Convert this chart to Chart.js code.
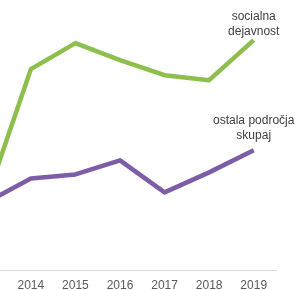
<!DOCTYPE html>
<html>
<head>
<meta charset="utf-8">
<script src="https://cdn.jsdelivr.net/npm/chart.js@4/dist/chart.umd.min.js"></script>
<style>
  html, body { margin: 0; padding: 0; background: #fff; overflow: hidden; width: 299px; height: 290px; }
  #myChart { position: absolute; left: -36px; top: 0; }
</style>
</head>
<body>
<canvas id="myChart" width="335" height="301"></canvas>
<script>
const years = ['2013', '2014', '2015', '2016', '2017', '2018', '2019'];
const socialna = [7.1, 20.1, 22.7, 21.0, 19.5, 19.0, 23.0];
const ostala = [6.8, 9.2, 9.6, 11.0, 7.8, 9.8, 12.0];
const seriesNames = [['socialna', 'dejavnost'], ['ostala področja', 'skupaj']];

// end-of-line labels, drawn above the last point of each line
const endLabels = {
  id: 'endLabels',
  afterDatasetsDraw(chart) {
    const ctx = chart.ctx;
    const lifts = [23, 30];
    ctx.save();
    ctx.font = '12px "Liberation Sans", Arial, sans-serif';
    ctx.fillStyle = '#404040';
    ctx.textAlign = 'center';
    ctx.textBaseline = 'middle';
    chart.data.datasets.forEach((ds, i) => {
      const pts = chart.getDatasetMeta(i).data;
      const last = pts[pts.length - 1];
      seriesNames[i].forEach((line, j) => {
        ctx.fillText(line, last.x, last.y - lifts[i] + j * 15);
      });
    });
    ctx.restore();
  }
};

const config = {
  type: 'line',
  data: {
    labels: years,
    datasets: [{
      label: 'socialna dejavnost',
      data: socialna,
      borderColor: '#8DBE4E',
      borderWidth: 4.5,
      pointRadius: 0,
      tension: 0,
      borderJoinStyle: 'round'
    }, {
      label: 'ostala področja skupaj',
      data: ostala,
      borderColor: '#7D5DA6',
      borderWidth: 4.5,
      pointRadius: 0,
      tension: 0,
      borderJoinStyle: 'round'
    }]
  },
  options: {
    responsive: false,
    animation: false,
    layout: { padding: { left: 0, right: 23, top: 0, bottom: 0 } },
    plugins: {
      legend: { display: false },
      tooltip: { enabled: false }
    },
    scales: {
      x: {
        offset: true,
        grid: { display: false, drawTicks: false },
        border: { display: true, color: '#D9D9D9', width: 1 },
        ticks: {
          color: '#595959',
          padding: 8,
          maxRotation: 0,
          autoSkip: false,
          font: { family: '"Liberation Sans", Arial, sans-serif', size: 12 }
        }
      },
      y: {
        display: false,
        min: 0,
        max: 27
      }
    }
  },
  plugins: [endLabels]
};

var myChart = new Chart(document.getElementById('myChart'), config);
</script>
</body>
</html>
